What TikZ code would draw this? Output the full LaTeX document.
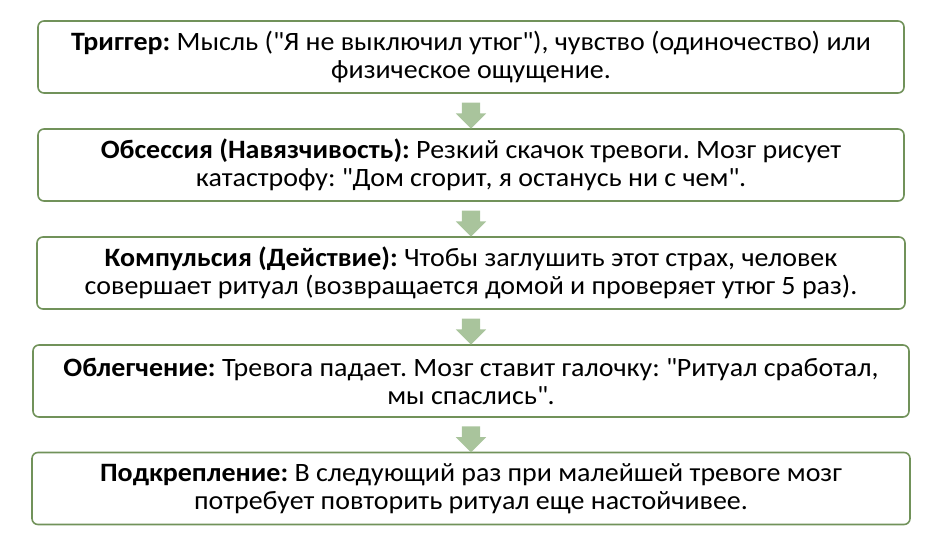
\documentclass[tikz,border=0pt]{standalone}
\usepackage{fontspec}
\setmainfont{Carlito}[FakeStretch=1.055]
\usetikzlibrary{shapes.arrows,calc}
\definecolor{boxgreen}{HTML}{71925A}
\definecolor{arrowgreen}{HTML}{A9C49C}
\newcommand{\q}{\textquotedbl}
\frenchspacing
\tikzset{
  stage/.style={draw=boxgreen, line width=1.6pt, rounded corners=6pt, fill=white,
    minimum width=866pt, minimum height=72pt, align=center,
    font=\fontsize{26.5}{28}\selectfont, text=black},
  downarrow/.style={single arrow, fill=arrowgreen, draw=none, rotate=-90,
    inner xsep=0pt, inner ysep=9pt, single arrow head extend=6pt, minimum height=26pt}
}
\begin{document}
\begin{tikzpicture}[x=1pt,y=-1pt]
    \useasboundingbox (0,0) rectangle (933,555);
    \node[stage] (trigger) at (471,57) {\textbf{Триггер:} Мысль (\q Я не выключил утюг\q), чувство (одиночество) или\\ физическое ощущение.};
    \node[stage] (obsession) at (471,165) {\textbf{Обсессия (Навязчивость):} Резкий скачок тревоги. Мозг рисует\\ катастрофу: \q Дом сгорит, я останусь ни с чем\q.};
    \node[stage, minimum width=868pt] (compulsion) at (471,273) {\textbf{Компульсия (Действие):} Чтобы заглушить этот страх, человек\\ совершает ритуал (возвращается домой и проверяет утюг 5 раз).};
    \node[stage, minimum width=876pt] (relief) at (471,381) {\textbf{Облегчение:} Тревога падает. Мозг ставит галочку: \q Ритуал сработал,\\ мы спаслись\q.};
    \node[stage, minimum width=878pt] (reinforce) at (471,488.5) {\textbf{Подкрепление:} В следующий раз при малейшей тревоге мозг\\ потребует повторить ритуал еще настойчивее.};

    \node[downarrow] (a1) at ($(trigger.south)!0.5!(obsession.north)$) {};
    \node[downarrow] (a2) at ($(obsession.south)!0.5!(compulsion.north)$) {};
    \node[downarrow] (a3) at ($(compulsion.south)!0.5!(relief.north)$) {};
    \node[downarrow] (a4) at ($(relief.south)!0.5!(reinforce.north)$) {};
\end{tikzpicture}
\end{document}
